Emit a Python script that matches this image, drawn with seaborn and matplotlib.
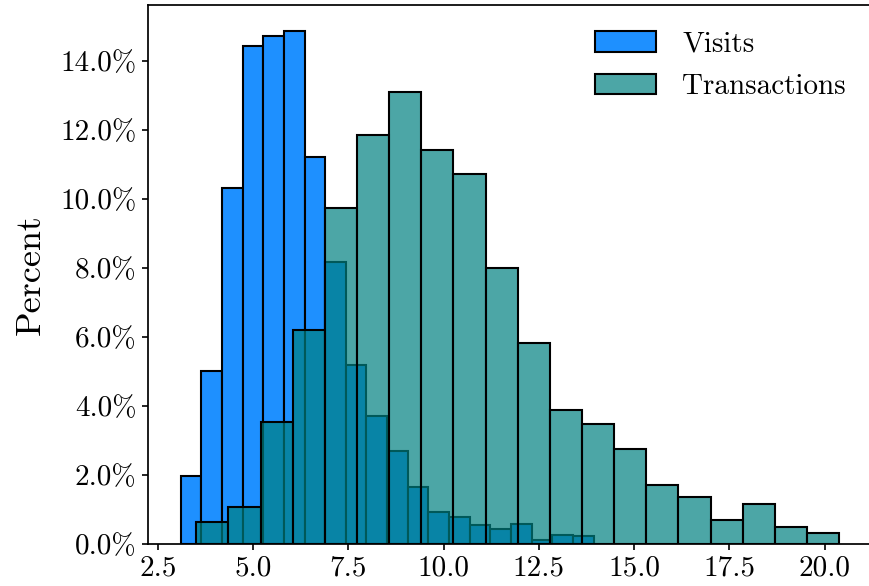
import numpy as np
import pandas as pd
import matplotlib
matplotlib.use("Agg")
import matplotlib.pyplot as plt
import seaborn as sns
from matplotlib.ticker import FuncFormatter

# ---- data (percent per bin) ----
visits_range = (3.10, 13.94)   # first/last bin edge, 20 equal bins
visits_pct = [1.97, 5.03, 10.33, 14.45, 14.73, 14.89, 11.24, 8.17, 5.19, 3.72,
              2.70, 1.66, 0.93, 0.79, 0.55, 0.43, 0.60, 0.13, 0.27, 0.23]

trans_range = (3.51, 20.38)
trans_pct = [0.65, 1.09, 3.55, 6.20, 9.76, 11.86, 13.10, 11.42, 10.74, 8.02,
             5.84, 3.89, 3.48, 2.76, 1.71, 1.36, 0.69, 1.16, 0.49, 0.34]

series_names = ["Visits", "Transactions"]
xticks = [2.5, 5.0, 7.5, 10.0, 12.5, 15.0, 17.5, 20.0]
yticks = [0, 2, 4, 6, 8, 10, 12, 14]

plt.rcParams["font.family"] = ["cmr10", "DejaVu Serif"]
plt.rcParams["axes.formatter.use_mathtext"] = True
plt.rcParams["mathtext.fontset"] = "cm"

fig = plt.figure(figsize=(8.69, 5.86), dpi=100)
ax = fig.add_axes([147.7 / 869, 1 - 544.3 / 586, (872 - 147.7) / 869, (544.3 - 5) / 586])


def frame(rng, vals):
    edges = np.linspace(rng[0], rng[1], len(vals) + 1)
    centers = (edges[:-1] + edges[1:]) / 2
    return pd.DataFrame({"x": centers, "w": vals})


dv = frame(visits_range, visits_pct)
dt = frame(trans_range, trans_pct)

sns.histplot(data=dv, x="x", weights="w", bins=len(visits_pct), binrange=visits_range,
             stat="count", color="#1E90FF", edgecolor="black", linewidth=1.5, alpha=1.0,
             label=series_names[0], ax=ax)
sns.histplot(data=dt, x="x", weights="w", bins=len(trans_pct), binrange=trans_range,
             stat="count", color="teal", edgecolor="black", linewidth=1.5, alpha=0.7,
             label=series_names[1], ax=ax)

ax.set_xticks(xticks)
ax.set_yticks(yticks)
ax.xaxis.set_major_formatter(FuncFormatter(lambda v, p: f"{v:.1f}"))
ax.yaxis.set_major_formatter(FuncFormatter(lambda v, p: f"{v:.1f}%"))
ax.tick_params(labelsize=21, length=4.5, width=1.2)
ax.set_xlabel("")
ax.set_ylabel("Percent", fontsize=26, labelpad=10)
for s in ax.spines.values():
    s.set_linewidth(1.25)
ax.margins(x=0.05, y=0.05)

ax.legend(loc="upper right", frameon=False, fontsize=21,
          handlelength=2.1, handleheight=0.7, handletextpad=0.9,
          labelspacing=0.55, bbox_to_anchor=(1.0, 1.0))

fig.savefig("out.png", dpi=100)
